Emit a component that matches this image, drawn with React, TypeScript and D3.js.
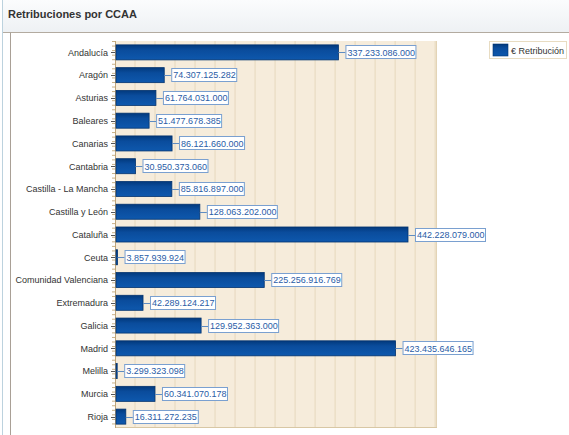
import React from "react";
import * as d3 from "d3";

const categories = [
  "Andalucía", "Aragón", "Asturias", "Baleares", "Canarias", "Cantabria",
  "Castilla - La Mancha", "Castilla y León", "Cataluña", "Ceuta",
  "Comunidad Valenciana", "Extremadura", "Galicia", "Madrid", "Melilla",
  "Murcia", "Rioja",
];
const values = [
  337233086000, 74307125282, 61764031000, 51477678385, 86121660000,
  30950373060, 85816897000, 128063202000, 442228079000, 3857939924,
  225256916769, 42289124217, 129952363000, 423435646165, 3299323098,
  60341070178, 16311272235,
];
const valueLabels = [
  "337.233.086.000", "74.307.125.282", "61.764.031.000", "51.477.678.385",
  "86.121.660.000", "30.950.373.060", "85.816.897.000", "128.063.202.000",
  "442.228.079.000", "3.857.939.924", "225.256.916.769", "42.289.124.217",
  "129.952.363.000", "423.435.646.165", "3.299.323.098", "60.341.070.178",
  "16.311.272.235",
];
const title = "Retribuciones por CCAA";
const seriesName = "€ Retribución";
const xMax = 486e9;
const gridStep = 30.2e9;

const W = 569, H = 435;
const plot = { left: 115, right: 437, top: 41, bottom: 428 };
const FONT = "'Liberation Sans', Arial, sans-serif";

export default function App() {
  const x = d3.scaleLinear().domain([0, xMax]).range([plot.left, plot.right]);
  const y = d3.scaleBand<string>().domain(categories).range([plot.top, plot.bottom]).paddingInner(0.34).paddingOuter(0.17);
  const step = y.step();
  const grid = d3.range(gridStep, xMax, gridStep);
  const minor = d3.range(plot.top, plot.bottom, step / 5);
  const charW = 5.0;
  return (
    <svg width={W} height={H} style={{ position: "absolute", left: 0, top: 0 }} fontFamily={FONT}>
      <defs>
        <linearGradient id="bar" x1="0" y1="0" x2="0" y2="1">
          <stop offset="0" stopColor="#02397c" />
          <stop offset="0.35" stopColor="#0a4c9c" />
          <stop offset="1" stopColor="#0e58ad" />
        </linearGradient>
        <linearGradient id="head" x1="0" y1="0" x2="0" y2="1">
          <stop offset="0" stopColor="#fbfcfd" />
          <stop offset="1" stopColor="#eef1f4" />
        </linearGradient>
      </defs>
      <rect x={0} y={0} width={W} height={H} fill="#ffffff" />
      <rect x={3} y={0} width={W - 3} height={32} fill="url(#head)" />
      <line x1={2.5} y1={0} x2={2.5} y2={H} stroke="#bcd2de" />
      <line x1={3} y1={32.5} x2={W} y2={32.5} stroke="#b3aba0" />
      <line x1={10.5} y1={32.5} x2={10.5} y2={H} stroke="#a9a096" />
      <text x={8} y={18} fontSize={11} fontWeight="bold" fill="#333">{title}</text>

      {/* plot background */}
      <rect x={plot.left} y={plot.top} width={plot.right - plot.left} height={plot.bottom - plot.top} fill="#f6ecdb" />
      {grid.map((g, i) => (
        <line key={i} x1={x(g)} x2={x(g)} y1={plot.top} y2={plot.bottom} stroke="#e6d8bd" />
      ))}
      <line x1={plot.right - 0.5} x2={plot.right - 0.5} y1={plot.top} y2={plot.bottom} stroke="#e3d4b6" />
      <line x1={plot.left} x2={plot.right} y1={plot.bottom - 0.5} y2={plot.bottom - 0.5} stroke="#d8c7a4" />

      {/* axis */}
      {minor.map((m, i) => (
        <line key={i} x1={plot.left - 3} x2={plot.left} y1={m + 0.5} y2={m + 0.5} stroke="#c9b085" />
      ))}
      <line x1={plot.left + 0.5} x2={plot.left + 0.5} y1={plot.top} y2={plot.bottom} stroke="#bfa57a" />

      {categories.map((c, i) => {
        const cy = (y(c) as number) + y.bandwidth() / 2;
        const x0 = x(0);
        const x1 = x(values[i]);
        const lbl = valueLabels[i];
        const bw = lbl.length * charW - 5;
        const bx = x1 + 7;
        return (
          <g key={c}>
            <line x1={plot.left - 4} x2={plot.left} y1={Math.round(cy) + 0.5} y2={Math.round(cy) + 0.5} stroke="#555" />
            <text x={plot.left - 7} y={cy + 3.3} fontSize={9} fill="#333" textAnchor="end">{c}</text>
            <rect x={x0 + 1} y={y(c) as number} width={Math.max(1, x1 - x0 - 1)} height={y.bandwidth()} fill="url(#bar)" stroke="#03336f" strokeWidth={0.8} />
            <line x1={x1} x2={bx} y1={Math.round(cy) + 0.5} y2={Math.round(cy) + 0.5} stroke="#5f8cc2" />
            <rect x={bx + 0.5} y={Math.round(cy) - 6.5} width={bw} height={13} fill="#ffffff" stroke="#7aa0d0" />
            <text x={bx + 2} y={cy + 3.3} fontSize={9} fill="#2a5ca6">{lbl}</text>
          </g>
        );
      })}

      {/* legend */}
      <rect x={489.5} y={41.5} width={77} height={17} fill="#ffffff" stroke="#e8dcc2" />
      <rect x={493} y={44} width={15} height={12} fill="url(#bar)" stroke="#03336f" strokeWidth={0.6} />
      <text x={511} y={53.5} fontSize={9} fill="#333">{seriesName}</text>
    </svg>
  );
}
